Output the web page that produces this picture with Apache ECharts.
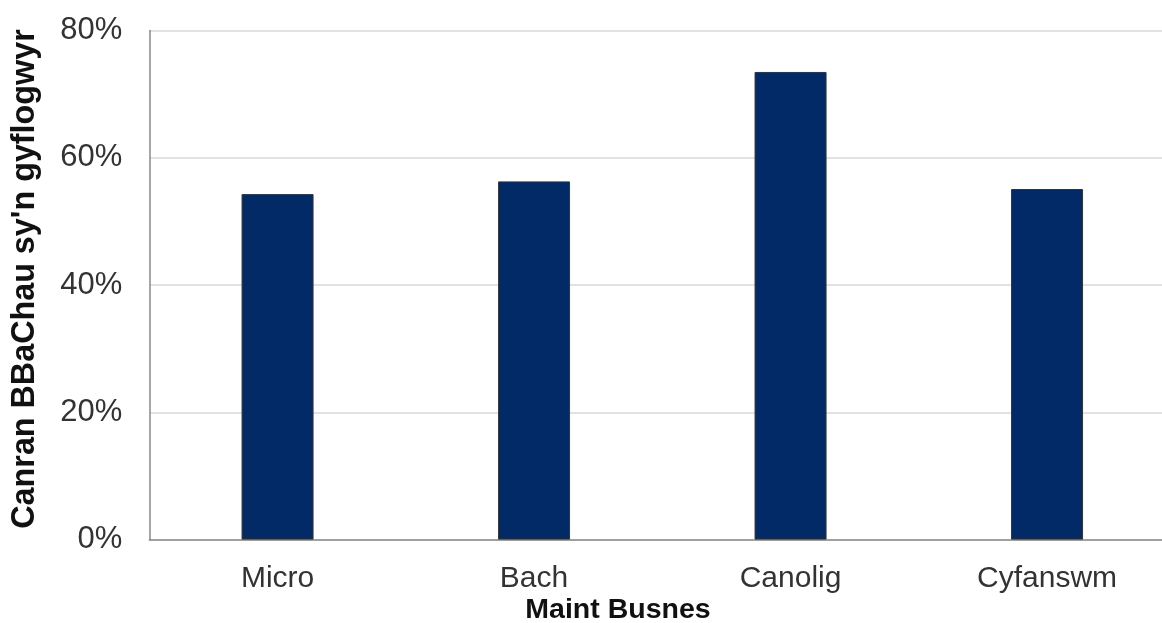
<!DOCTYPE html>
<html>
<head>
<meta charset="utf-8">
<script src="https://cdn.jsdelivr.net/npm/echarts@6/dist/echarts.min.js"></script>
<style>
html,body{margin:0;padding:0;background:#fff;}
#c{width:1162px;height:623px;}
</style>
</head>
<body>
<div id="c"></div>
<script>
const categories = ["Micro", "Bach", "Canolig", "Cyfanswm"];
const values = [54.3, 56.3, 73.5, 55.1];
const yTicks = [0, 20, 40, 60, 80];
const yTitle = "Canran BBaChau sy'n gyflogwyr";
const xTitle = "Maint Busnes";

const chart = echarts.init(document.getElementById('c'), null, {renderer: 'canvas'});
const font = "'Liberation Sans', Arial, sans-serif";
chart.setOption({
  animation: false,
  backgroundColor: '#ffffff',
  grid: {left: 149.3, top: 30.6, width: 1026, height: 509, containLabel: false, outerBoundsMode: 'none'},
  xAxis: {
    type: 'category',
    data: categories,
    axisLine: {show: true, lineStyle: {color: '#8a8a8a', width: 1.5}},
    axisTick: {show: false},
    axisLabel: {fontFamily: font, fontSize: 30, color: '#333', margin: 24}
  },
  yAxis: {
    type: 'value',
    min: yTicks[0],
    max: yTicks[yTicks.length - 1],
    interval: 20,
    axisLine: {show: true, lineStyle: {color: '#8a8a8a', width: 1.5}},
    axisTick: {show: false},
    splitLine: {show: true, lineStyle: {color: '#d9d9d9', width: 1.5}},
    axisLabel: {fontFamily: font, fontSize: 31, color: '#333', margin: 27,
      formatter: v => v + '%'}
  },
  graphic: [
    {type: 'text', x: 25, y: 279, rotation: Math.PI / 2,
      style: {text: yTitle, font: "bold 32.3px 'Liberation Sans', Arial, sans-serif", fill: '#111',
        align: 'center', verticalAlign: 'middle'}},
    {type: 'text', x: 618, y: 610,
      style: {text: xTitle, font: "bold 28.5px 'Liberation Sans', Arial, sans-serif", fill: '#111',
        align: 'center', verticalAlign: 'middle'}}
  ],
  series: [{
    type: 'bar',
    data: values,
    barWidth: 72,
    itemStyle: {color: '#022a66', borderColor: '#333', borderWidth: 1}
  }]
});
</script>
</body>
</html>
